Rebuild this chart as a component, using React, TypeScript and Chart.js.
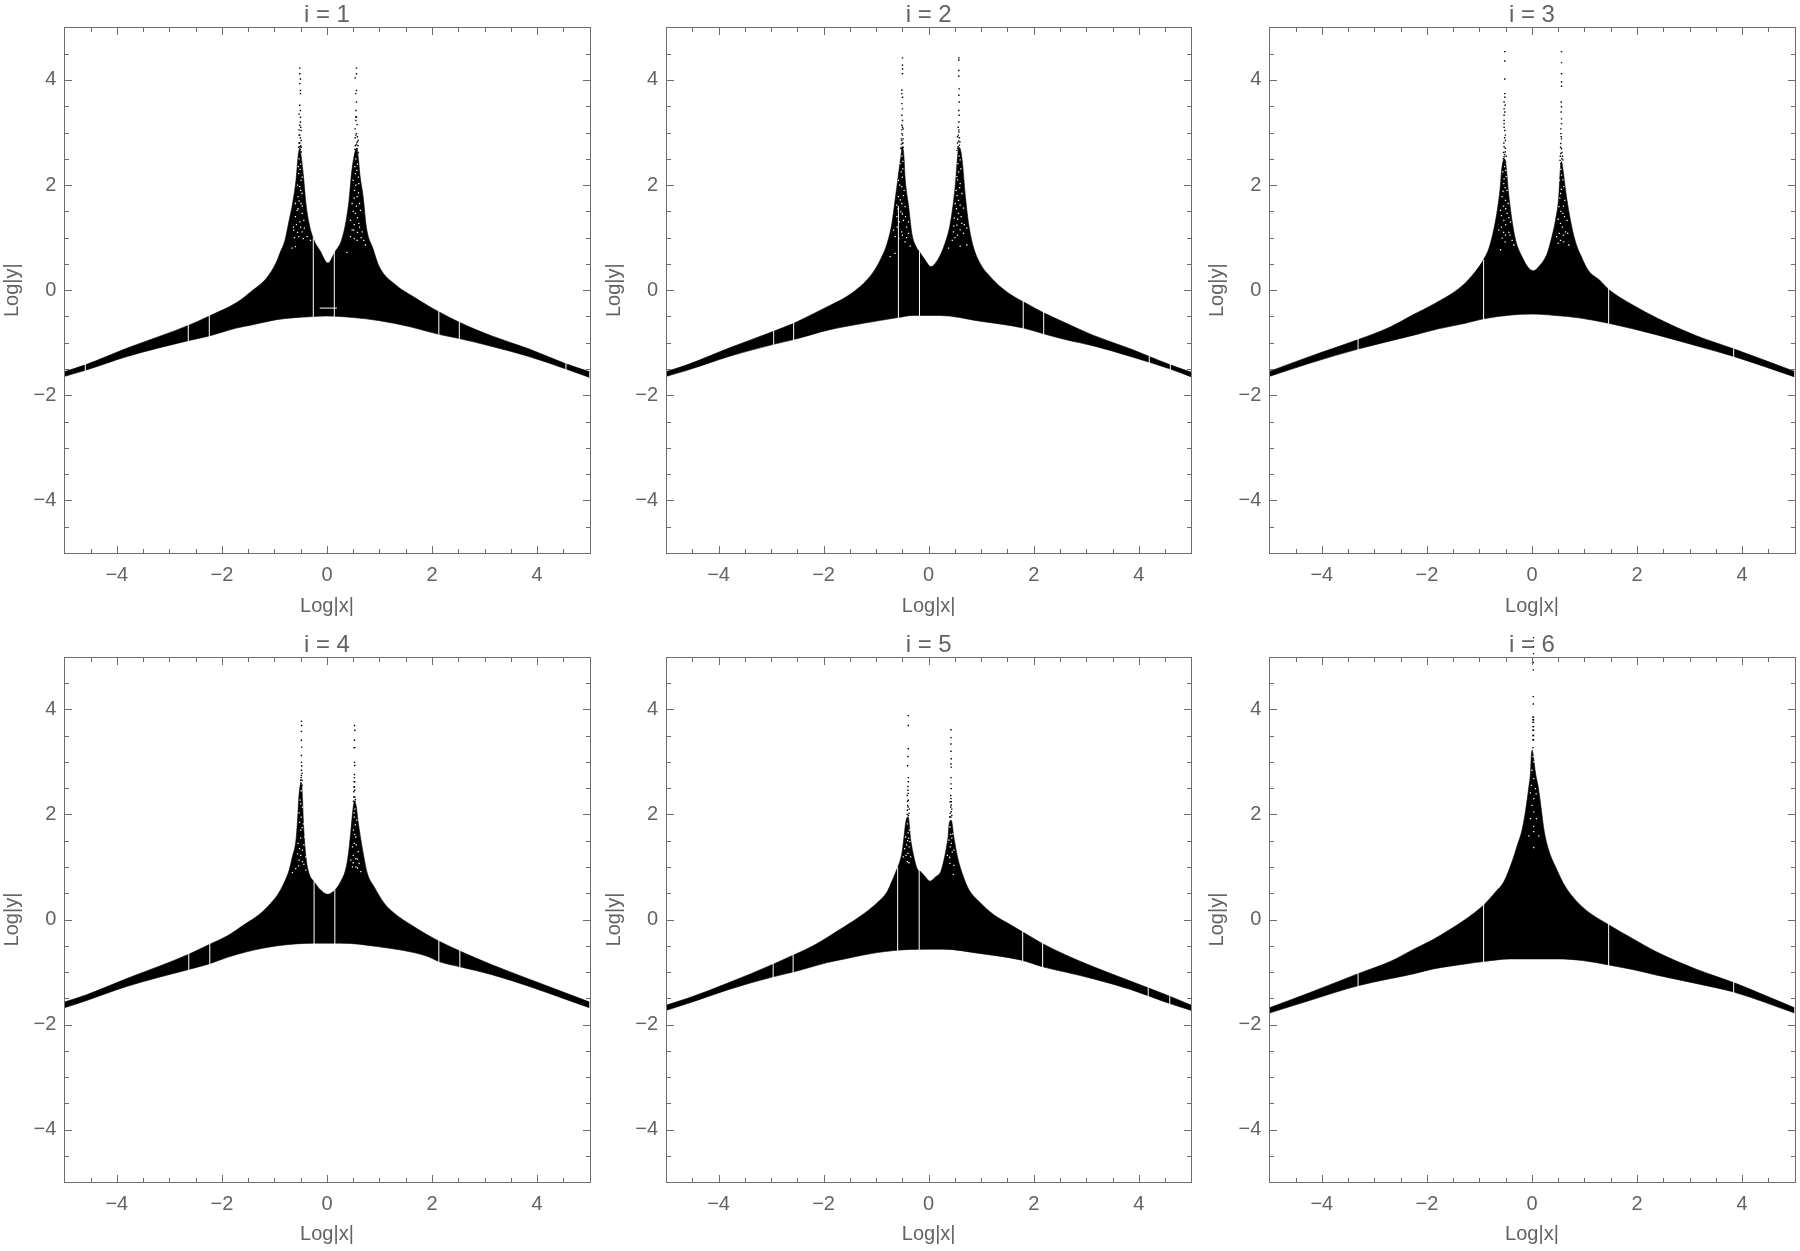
import React, { useEffect, useRef } from "react";
import { Chart, registerables } from "chart.js";

Chart.register(...registerables);

type P = [number, number];

const majorTicks = [-4, -2, 0, 2, 4];
const minorTicks = [-4.5, -3.5, -3, -2.5, -1.5, -1, -0.5, 0.5, 1, 1.5, 2.5, 3, 3.5, 4.5];
const titles = ["i = 1", "i = 2", "i = 3", "i = 4", "i = 5", "i = 6"];

// ---------- i = 1 ----------
const p1Upper: P[] = [[-5,-1.55],[-4.6,-1.42],[-3.8,-1.1],[-2.64,-0.67],[-2.24,-0.49],[-1.72,-0.235],[-1.43,-0.015],[-1.15,0.23],[-0.96,0.54],[-0.9,0.695],[-0.8,0.95],[-0.72,1.33],[-0.655,1.65],[-0.59,2.09],[-0.55,2.54],[-0.517,2.7],[-0.49,2.54],[-0.45,2.2],[-0.4,1.65],[-0.34,1.27],[-0.25,0.96],[-0.136,0.76],[0.02,0.516],[0.15,0.725],[0.277,0.95],[0.36,1.3],[0.42,1.71],[0.467,2.22],[0.52,2.57],[0.562,2.7],[0.6,2.5],[0.625,2.22],[0.69,1.77],[0.75,1.2],[0.877,0.79],[1,0.44],[1.31,0.1],[1.64,-0.12],[1.95,-0.31],[2.13,-0.41],[2.52,-0.61],[3.14,-0.87],[3.84,-1.115],[4.55,-1.4],[5,-1.55]];
const p1Lower: P[] = [[-5,-1.64],[-4.6,-1.525],[-3.8,-1.26],[-2.64,-0.96],[-2.24,-0.87],[-1.72,-0.72],[-1.43,-0.66],[-1.15,-0.6],[-0.96,-0.56],[-0.26,-0.5],[0,-0.49],[0.5,-0.52],[1,-0.58],[1.6,-0.7],[2.13,-0.84],[2.52,-0.92],[3.14,-1.07],[3.84,-1.26],[4.55,-1.5],[5,-1.66]];
const p1Gaps: number[][] = [[-4.6,-1.56,-1.4],[-2.64,-1,-0.65],[-2.24,-0.9,-0.47],[-0.26,-0.53,1],[0.14,-0.53,0.76],[2.13,-0.87,-0.39],[2.52,-0.95,-0.59],[4.55,-1.53,-1.38]];
const p1Slivers: P[] = [[-0.137,-0.34],[0.19,-0.34]];
const p1Dots: P[] = [[-0.517,4.225],[-0.517,4.12],[-0.505,4.02],[-0.517,3.93],[-0.505,3.8],[-0.505,3.74],[-0.517,3.52],[-0.505,3.42],[-0.505,3.29],[-0.517,3.14],[-0.492,3.04],[-0.517,2.95],[-0.492,2.85],[-0.517,2.73],[-0.492,2.63],[-0.505,2.54],[-0.53,2.6],[-0.53,2.8],[-0.53,3.35],[-0.505,3.2],[-0.53,3.05],[-0.505,2.9],[-0.53,2.95],[-0.5,2.75],[-0.54,2.72],[-0.49,2.72],[-0.5,3.1],[-0.517,2.8],[-0.505,2.68],[0.562,4.225],[0.562,4.12],[0.537,4.04],[0.562,3.8],[0.55,3.74],[0.562,3.58],[0.55,3.42],[0.562,3.29],[0.55,3.23],[0.537,3.07],[0.562,2.98],[0.594,2.85],[0.55,2.76],[0.575,2.69],[0.55,2.57],[0.594,2.62],[0.537,2.9],[0.55,3.3],[0.575,3.15],[0.55,2.95],[0.575,2.82],[0.59,2.75],[0.54,2.75],[0.565,2.78],[0.58,2.92],[0.53,2.68]];
const p1Specks: P[] = [[-0.537,2.22],[-0.492,2.09],[-0.517,1.97],[-0.473,1.84],[-0.549,1.78],[-0.492,1.65],[-0.568,1.52],[-0.473,1.46],[-0.6,1.4],[-0.517,1.3],[-0.441,1.33],[-0.632,1.145],[-0.473,1.11],[-0.537,1.02],[-0.378,1.02],[-0.663,0.8],[-0.6,0.83],[-0.314,0.95],[-0.53,2.5],[-0.5,2.4],[-0.545,2.35],[-0.51,2.3],[-0.47,2.15],[-0.56,2],[-0.5,1.9],[-0.53,1.7],[-0.6,1.65],[-0.47,1.6],[-0.55,1.55],[-0.64,1.2],[-0.58,1.25],[-0.5,1.2],[-0.43,1.18],[-0.56,1.1],[-0.62,1],[-0.45,0.98],[0.543,2.22],[0.498,2.09],[0.606,2.03],[0.524,1.9],[0.575,1.78],[0.479,1.65],[0.638,1.52],[0.543,1.46],[0.448,1.33],[0.606,1.27],[0.511,1.145],[0.67,1.11],[0.448,1.02],[0.7,0.95],[0.575,0.95],[0.733,0.86],[0.38,0.72],[0.55,2.5],[0.58,2.4],[0.53,2.35],[0.57,2.28],[0.6,2.15],[0.55,2],[0.6,1.85],[0.52,1.75],[0.56,1.6],[0.62,1.65],[0.5,1.5],[0.58,1.38],[0.52,1.25],[0.62,1.2],[0.48,1.15],[0.58,1.1],[0.65,1],[0.52,0.98]];

// ---------- i = 2 ----------
const p2Upper: P[] = [[-5,-1.55],[-4.6,-1.42],[-3.8,-1.1],[-2.95,-0.78],[-2.57,-0.63],[-2.24,-0.47],[-1.88,-0.29],[-1.56,-0.12],[-1.24,0.13],[-1.05,0.35],[-0.92,0.58],[-0.8,0.86],[-0.7,1.27],[-0.64,1.71],[-0.58,2.16],[-0.53,2.54],[-0.498,2.72],[-0.47,2.54],[-0.45,2.16],[-0.38,1.59],[-0.32,1.08],[-0.24,0.83],[-0.175,0.73],[-0.07,0.58],[0.04,0.45],[0.19,0.61],[0.31,0.89],[0.4,1.21],[0.46,1.59],[0.51,2.03],[0.55,2.54],[0.575,2.72],[0.63,2.54],[0.7,1.78],[0.76,1.27],[0.85,0.83],[0.98,0.51],[1.17,0.26],[1.36,0.07],[1.62,-0.12],[1.8,-0.22],[1.93,-0.29],[2.19,-0.43],[2.6,-0.62],[3.14,-0.86],[3.84,-1.115],[4.2,-1.26],[4.6,-1.42],[5,-1.56]];
const p2Lower: P[] = [[-5,-1.64],[-4.6,-1.525],[-3.8,-1.26],[-2.95,-1.03],[-2.57,-0.94],[-1.88,-0.75],[-1.24,-0.63],[-0.58,-0.52],[-0.3,-0.48],[0.2,-0.48],[0.98,-0.59],[1.8,-0.72],[2.19,-0.83],[2.6,-0.94],[3.14,-1.06],[3.84,-1.26],[4.6,-1.5],[5,-1.65]];
const p2Gaps: number[][] = [[-2.95,-1.06,-0.76],[-2.57,-0.97,-0.61],[-0.576,-0.55,1.6],[-0.175,-0.51,0.74],[1.8,-0.75,-0.2],[2.19,-0.86,-0.41],[4.2,-1.42,-1.24],[4.6,-1.53,-1.4]];
const p2Slivers: P[] = [];
const p2Dots: P[] = [[-0.498,4.42],[-0.498,4.28],[-0.498,4.21],[-0.498,4.12],[-0.51,3.81],[-0.51,3.74],[-0.498,3.67],[-0.51,3.55],[-0.498,3.45],[-0.51,3.33],[-0.498,3.23],[-0.51,3.14],[-0.485,3.07],[-0.51,2.98],[-0.52,2.88],[-0.498,2.79],[-0.52,2.69],[-0.485,2.88],[-0.485,2.72],[-0.51,3.05],[-0.498,2.95],[-0.52,2.78],[-0.505,2.72],[-0.49,2.8],[-0.51,2.85],[-0.498,3.1],[-0.53,2.7],[0.575,4.42],[0.575,4.38],[0.575,4.18],[0.575,4.07],[0.581,3.83],[0.575,3.71],[0.581,3.58],[0.575,3.42],[0.581,3.33],[0.575,3.2],[0.562,3.1],[0.575,3.01],[0.55,2.92],[0.594,2.82],[0.562,2.73],[0.594,2.68],[0.55,2.8],[0.565,2.95],[0.585,2.9],[0.57,2.84],[0.585,2.76],[0.555,2.7],[0.575,3.05],[0.54,2.66]];
const p2Specks: P[] = [[-0.543,2.41],[-0.492,2.31],[-0.575,2.09],[-0.511,1.97],[-0.467,1.9],[-0.575,1.78],[-0.511,1.65],[-0.606,1.62],[-0.448,1.59],[-0.53,1.49],[-0.606,1.4],[-0.479,1.33],[-0.384,1.3],[-0.67,1.145],[-0.511,1.11],[-0.384,1.08],[-0.638,1.02],[-0.448,0.92],[-0.352,0.84],[-0.733,0.64],[-0.638,0.7],[-0.51,2.55],[-0.49,2.45],[-0.52,2.25],[-0.5,2.15],[-0.55,2],[-0.48,1.8],[-0.54,1.72],[-0.58,1.55],[-0.5,1.45],[-0.44,1.4],[-0.56,1.3],[-0.42,1.2],[-0.6,1.2],[-0.5,1.05],[-0.57,0.98],[-0.42,1],[0.556,2.41],[0.613,2.31],[0.537,2.16],[0.6,2.03],[0.524,1.9],[0.632,1.84],[0.568,1.71],[0.505,1.65],[0.663,1.56],[0.568,1.46],[0.486,1.37],[0.632,1.27],[0.537,1.24],[0.727,1.18],[0.473,1.11],[0.663,1.08],[0.378,0.8],[0.6,0.84],[0.727,0.86],[0.58,2.55],[0.6,2.48],[0.57,2.25],[0.55,2.1],[0.59,1.95],[0.54,1.8],[0.6,1.62],[0.53,1.55],[0.62,1.4],[0.55,1.35],[0.48,1.22],[0.6,1.15],[0.55,1.05],[0.68,1.25],[0.5,1],[0.45,0.95]];

// ---------- i = 3 ----------
const p3Upper: P[] = [[-5,-1.545],[-4.2,-1.25],[-3.31,-0.94],[-2.7,-0.7],[-2.23,-0.45],[-1.9,-0.28],[-1.33,0.082],[-1.08,0.353],[-0.93,0.57],[-0.82,0.795],[-0.73,1.14],[-0.67,1.46],[-0.61,1.9],[-0.57,2.35],[-0.517,2.5],[-0.49,2.35],[-0.45,1.9],[-0.39,1.4],[-0.31,0.95],[-0.19,0.64],[-0.06,0.42],[0.036,0.372],[0.13,0.45],[0.29,0.7],[0.38,1.02],[0.45,1.34],[0.51,1.78],[0.54,2.3],[0.563,2.45],[0.59,2.3],[0.64,1.9],[0.72,1.4],[0.82,0.95],[0.94,0.64],[1.07,0.38],[1.29,0.19],[1.48,0],[1.92,-0.28],[2.38,-0.53],[3.14,-0.87],[3.84,-1.115],[5,-1.545]];
const p3Lower: P[] = [[-5,-1.64],[-4.2,-1.38],[-3.31,-1.12],[-2.23,-0.85],[-1.78,-0.735],[-1.27,-0.63],[-0.92,-0.545],[-0.38,-0.47],[0,-0.455],[0.44,-0.48],[0.92,-0.53],[1.46,-0.63],[2.38,-0.85],[3.14,-1.06],[3.84,-1.26],[5,-1.65]];
const p3Gaps: number[][] = [[-3.31,-1.15,-0.92],[-0.92,-0.57,0.58],[1.46,-0.66,0.05],[3.84,-1.29,-1.09]];
const p3Slivers: P[] = [];
const p3Dots: P[] = [[-0.517,4.54],[-0.517,4.36],[-0.517,4.02],[-0.517,3.74],[-0.517,3.67],[-0.53,3.58],[-0.51,3.52],[-0.53,3.45],[-0.517,3.39],[-0.53,3.33],[-0.53,3.23],[-0.53,3.17],[-0.517,3.04],[-0.505,2.95],[-0.505,2.85],[-0.53,2.73],[-0.51,2.63],[-0.53,2.54],[-0.505,2.44],[-0.54,2.62],[-0.53,3.1],[-0.52,2.9],[-0.535,2.8],[-0.505,2.7],[-0.52,2.58],[-0.49,2.55],[-0.545,2.5],[0.563,4.54],[0.563,4.33],[0.563,4.12],[0.563,3.96],[0.563,3.88],[0.557,3.58],[0.563,3.49],[0.557,3.39],[0.563,3.26],[0.563,3.17],[0.55,3.07],[0.55,2.98],[0.563,2.88],[0.55,2.79],[0.563,2.69],[0.55,2.6],[0.57,2.5],[0.55,2.41],[0.557,2.92],[0.545,2.72],[0.57,2.62],[0.54,2.55],[0.58,2.55],[0.59,2.48],[0.535,2.47]];
const p3Specks: P[] = [[-0.555,2.25],[-0.491,2.16],[-0.536,2.03],[-0.472,1.9],[-0.568,1.78],[-0.504,1.71],[-0.453,1.65],[-0.599,1.52],[-0.472,1.46],[-0.536,1.33],[-0.409,1.3],[-0.631,1.145],[-0.504,1.05],[-0.568,0.99],[-0.377,0.95],[-0.599,0.77],[-0.345,0.86],[-0.52,2.35],[-0.5,2.28],[-0.53,2.12],[-0.51,1.95],[-0.55,1.88],[-0.54,1.6],[-0.5,1.55],[-0.58,1.42],[-0.44,1.38],[-0.5,1.25],[-0.58,1.2],[-0.44,1.1],[-0.54,1.1],[-0.42,1.05],[-0.51,0.92],[0.563,2.19],[0.525,2.09],[0.607,1.97],[0.544,1.84],[0.626,1.71],[0.512,1.59],[0.588,1.46],[0.67,1.33],[0.544,1.27],[0.639,1.11],[0.499,0.89],[0.607,0.92],[0.702,0.86],[0.544,0.95],[0.55,2.3],[0.59,2.1],[0.56,1.92],[0.53,1.75],[0.6,1.6],[0.55,1.5],[0.62,1.4],[0.5,1.35],[0.58,1.2],[0.52,1.08],[0.6,1.05],[0.68,1.08],[0.47,1.02]];

// ---------- i = 4 ----------
const p4Upper: P[] = [[-5,-1.57],[-4.6,-1.44],[-3.8,-1.12],[-2.63,-0.66],[-2.23,-0.47],[-1.895,-0.31],[-1.58,-0.1],[-1.26,0.12],[-1.07,0.31],[-0.94,0.47],[-0.82,0.69],[-0.72,0.94],[-0.66,1.19],[-0.59,1.51],[-0.56,1.89],[-0.53,2.39],[-0.486,2.6],[-0.465,2.3],[-0.45,1.89],[-0.4,1.19],[-0.34,0.875],[-0.245,0.72],[-0.12,0.56],[0.01,0.48],[0.15,0.56],[0.26,0.72],[0.36,0.97],[0.41,1.26],[0.45,1.63],[0.5,2.14],[0.524,2.25],[0.56,2.14],[0.59,1.89],[0.68,1.32],[0.77,0.875],[0.9,0.62],[1.09,0.31],[1.28,0.12],[1.6,-0.1],[1.91,-0.29],[2.13,-0.41],[2.53,-0.6],[3.14,-0.86],[3.84,-1.13],[4.55,-1.4],[5,-1.57]];
const p4Lower: P[] = [[-5,-1.68],[-4.6,-1.55],[-3.8,-1.27],[-2.63,-0.95],[-2.23,-0.84],[-1.895,-0.72],[-1.51,-0.61],[-0.94,-0.5],[-0.245,-0.45],[0.26,-0.45],[0.96,-0.515],[1.91,-0.7],[2.13,-0.8],[2.53,-0.9],[3.14,-1.05],[3.84,-1.27],[4.55,-1.52],[5,-1.68]];
const p4Gaps: number[][] = [[-2.63,-0.98,-0.64],[-2.23,-0.87,-0.45],[-0.245,-0.48,0.73],[0.15,-0.48,0.57],[2.13,-0.83,-0.39],[2.53,-0.93,-0.58]];
const p4Slivers: P[] = [];
const p4Dots: P[] = [[-0.486,3.77],[-0.48,3.69],[-0.486,3.58],[-0.486,3.41],[-0.48,3.28],[-0.486,3.12],[-0.486,2.99],[-0.486,2.84],[-0.486,2.74],[-0.5,2.65],[-0.475,2.65],[-0.5,2.55],[-0.475,2.55],[-0.49,2.46],[-0.5,2.36],[-0.48,2.92],[-0.49,2.7],[-0.475,2.78],[-0.5,2.6],[0.524,3.69],[0.53,3.6],[0.524,3.41],[0.53,3.27],[0.517,3.27],[0.524,2.99],[0.53,2.93],[0.524,2.76],[0.53,2.62],[0.517,2.62],[0.524,2.52],[0.511,2.43],[0.53,2.33],[0.511,2.33],[0.53,2.24],[0.524,2.7],[0.53,2.46],[0.515,2.52],[0.54,2.28],[0.505,2.25]];
const p4Specks: P[] = [[-0.511,2.27],[-0.467,2.14],[-0.53,2.03],[-0.448,1.82],[-0.498,1.7],[-0.422,1.57],[-0.549,1.45],[-0.467,1.32],[-0.403,1.19],[-0.53,1.13],[-0.467,1.1],[-0.594,0.97],[-0.403,0.94],[-0.657,0.89],[-0.49,2.45],[-0.5,2.2],[-0.49,1.95],[-0.52,1.85],[-0.47,1.75],[-0.5,1.55],[-0.52,1.35],[-0.44,1.42],[-0.56,1.25],[-0.5,1.22],[-0.44,1.05],[-0.54,1.02],[0.517,2.03],[0.568,1.89],[0.505,1.7],[0.549,1.57],[0.486,1.38],[0.594,1.29],[0.454,1.13],[0.549,1.16],[0.613,1.07],[0.486,1],[0.644,0.91],[0.53,2.1],[0.52,1.95],[0.54,1.8],[0.53,1.62],[0.52,1.45],[0.56,1.42],[0.5,1.22],[0.58,1.15],[0.5,1.08],[0.55,1],[0.58,0.98]];

// ---------- i = 5 ----------
const p5Upper: P[] = [[-5,-1.63],[-4.59,-1.5],[-3.8,-1.2],[-2.96,-0.85],[-2.58,-0.68],[-2.2,-0.5],[-1.93,-0.34],[-1.61,-0.14],[-1.29,0.07],[-0.98,0.32],[-0.79,0.53],[-0.69,0.75],[-0.6,0.97],[-0.55,1.1],[-0.5,1.32],[-0.47,1.57],[-0.43,1.89],[-0.39,1.95],[-0.34,1.51],[-0.28,1.19],[-0.22,0.97],[-0.15,0.91],[-0.06,0.81],[0.025,0.73],[0.13,0.81],[0.23,0.91],[0.29,1.13],[0.34,1.38],[0.37,1.57],[0.39,1.82],[0.43,1.89],[0.48,1.57],[0.55,1.19],[0.64,0.875],[0.77,0.56],[0.93,0.37],[1.24,0.09],[1.56,-0.1],[1.88,-0.29],[2.17,-0.46],[2.6,-0.67],[3.14,-0.9],[3.84,-1.17],[4.18,-1.3],[4.59,-1.46],[5,-1.63]];
const p5Lower: P[] = [[-5,-1.73],[-4.59,-1.6],[-3.8,-1.33],[-2.96,-1.09],[-2.58,-1],[-1.93,-0.82],[-1.55,-0.74],[-0.98,-0.63],[-0.34,-0.57],[0.29,-0.565],[0.93,-0.64],[1.75,-0.77],[2.17,-0.9],[2.6,-1],[3.14,-1.13],[3.84,-1.33],[4.59,-1.6],[5,-1.73]];
const p5Gaps: number[][] = [[-2.96,-1.12,-0.83],[-2.58,-1.03,-0.66],[-0.59,-0.6,1],[-0.18,-0.6,0.95],[1.79,-0.8,-0.2],[2.17,-0.93,-0.44],[4.18,-1.52,-1.28],[4.59,-1.63,-1.44]];
const p5Slivers: P[] = [];
const p5Dots: P[] = [[-0.387,3.88],[-0.387,3.69],[-0.387,3.25],[-0.395,3.1],[-0.4,2.925],[-0.387,2.7],[-0.387,2.62],[-0.395,2.53],[-0.395,2.46],[-0.405,2.36],[-0.39,2.27],[-0.4,2.17],[-0.405,2.08],[-0.385,1.98],[-0.37,2.1],[-0.4,2.25],[-0.39,2.4],[-0.39,2.14],[-0.375,2.02],[-0.41,2],[0.425,3.61],[0.425,3.46],[0.425,3.34],[0.425,3.2],[0.43,3.06],[0.425,2.96],[0.43,2.9],[0.425,2.7],[0.425,2.58],[0.43,2.49],[0.42,2.36],[0.43,2.24],[0.42,2.14],[0.43,2.05],[0.42,1.95],[0.41,2.24],[0.44,2.1],[0.44,1.98],[0.425,2.3],[0.43,2.18],[0.41,2.02],[0.4,1.95]];
const p5Specks: P[] = [[-0.406,1.82],[-0.368,1.7],[-0.438,1.57],[-0.356,1.48],[-0.457,1.35],[-0.394,1.26],[-0.343,1.19],[-0.483,1.19],[-0.406,1.1],[-0.375,1.08],[-0.39,1.65],[-0.4,1.5],[-0.42,1.42],[-0.37,1.38],[-0.43,1.22],[-0.38,1.55],[0.406,1.76],[0.457,1.63],[0.387,1.51],[0.432,1.45],[0.483,1.32],[0.356,1.22],[0.406,1.07],[0.483,1.03],[0.47,0.86],[0.42,1.62],[0.44,1.55],[0.41,1.38],[0.45,1.28],[0.4,1.18]];

// ---------- i = 6 ----------
const p6Upper: P[] = [[-5,-1.68],[-4.2,-1.38],[-3.31,-1.03],[-2.7,-0.8],[-2.24,-0.56],[-1.9,-0.39],[-1.58,-0.2],[-1.27,0],[-0.92,0.275],[-0.69,0.53],[-0.535,0.72],[-0.38,1.1],[-0.28,1.41],[-0.19,1.7],[-0.12,2.08],[-0.06,2.52],[-0.03,2.77],[-0.01,3.15],[0.005,3.22],[0.02,3.15],[0.07,2.77],[0.12,2.52],[0.18,2.08],[0.23,1.7],[0.32,1.32],[0.45,1],[0.64,0.62],[0.96,0.24],[1.46,-0.1],[1.91,-0.36],[2.38,-0.62],[3.14,-0.95],[3.84,-1.2],[5,-1.68]];
const p6Lower: P[] = [[-5,-1.78],[-4.2,-1.53],[-3.31,-1.26],[-2.24,-1.03],[-1.9,-0.945],[-1.27,-0.845],[-0.92,-0.8],[-0.41,-0.75],[0.48,-0.75],[0.96,-0.78],[1.46,-0.865],[1.91,-0.95],[2.38,-1.06],[3.14,-1.22],[3.84,-1.38],[5,-1.78]];
const p6Gaps: number[][] = [[-3.31,-1.29,-1.01],[-0.92,-0.83,0.3],[1.46,-0.89,-0.08],[3.84,-1.41,-1.18]];
const p6Slivers: P[] = [];
const p6Dots: P[] = [[0.02,3.27],[0.02,3.42],[0.03,3.42],[0.02,3.5],[0.03,3.5],[0.02,3.6],[0.03,3.6],[0.02,3.67],[0.03,3.67],[0.02,3.75],[0.03,3.75],[0.02,3.8],[0.03,3.8],[0.02,3.85],[0.03,3.85],[0.025,4.1],[0.025,4.24],[0.025,4.75],[0.025,4.89]];
const p6Above: P[] = [[0.025,5.08],[0.025,5.21],[0.025,5.37]];
const p6Specks: P[] = [[0.02,3.1],[0.035,3],[0,2.84],[0.035,2.68],[-0.01,2.55],[0.067,2.49],[-0.03,2.41],[0.08,2.39],[0.035,2.3],[0,2.17],[0.035,2.05],[-0.03,1.92],[0.086,1.92],[0.035,1.77],[-0.06,1.59],[0.13,1.59],[0.035,1.67],[0.035,1.37]];

const uppers = [p1Upper, p2Upper, p3Upper, p4Upper, p5Upper, p6Upper];
const lowers = [p1Lower, p2Lower, p3Lower, p4Lower, p5Lower, p6Lower];
const gapLists = [p1Gaps, p2Gaps, p3Gaps, p4Gaps, p5Gaps, p6Gaps];
const sliverLists = [p1Slivers, p2Slivers, p3Slivers, p4Slivers, p5Slivers, p6Slivers];
const dotLists = [p1Dots, p2Dots, p3Dots, p4Dots, p5Dots, p6Dots];
const speckLists = [p1Specks, p2Specks, p3Specks, p4Specks, p5Specks, p6Specks];
const aboveLists: P[][] = [[], [], [], [], [], p6Above];

const FONT = '"Liberation Sans", Arial, sans-serif';
const TEXT = "#636363";
const FRAME = "#6e6e6e";

const toXY = (pts: P[]) => pts.map(([x, y]) => ({ x, y }));

const framePlugin = {
  id: "frameTicks",
  afterDatasetsDraw(chart: any, _args: any, opts: any) {
    const { ctx, chartArea: a, scales } = chart;
    const l = Math.round(a.left) + 0.5;
    const r = Math.round(a.right) + 0.5;
    const t = Math.round(a.top) + 0.5;
    const b = Math.round(a.bottom) + 0.5;
    ctx.save();
    ctx.strokeStyle = FRAME;
    ctx.lineWidth = 1;
    ctx.strokeRect(l, t, r - l, b - t);
    const draw = (vals: number[], len: number) => {
      ctx.beginPath();
      for (const v of vals) {
        const px = Math.round(scales.x.getPixelForValue(v)) + 0.5;
        ctx.moveTo(px, b);
        ctx.lineTo(px, b - len);
        ctx.moveTo(px, t);
        ctx.lineTo(px, t + len);
        const py = Math.round(scales.y.getPixelForValue(v)) + 0.5;
        ctx.moveTo(l, py);
        ctx.lineTo(l + len, py);
        ctx.moveTo(r, py);
        ctx.lineTo(r - len, py);
      }
      ctx.stroke();
    };
    draw(majorTicks, 7.5);
    draw(minorTicks, 4.5);
    ctx.fillStyle = "#000";
    for (const [x, y] of (opts.above || []) as P[]) {
      ctx.fillRect(Math.round(scales.x.getPixelForValue(x)), Math.round(scales.y.getPixelForValue(y)), 1.2, 1.2);
    }
    ctx.restore();
  },
};

const slots = [
  { left: 0, top: 0, width: 600, height: 618, yw: 64.3, xh: 65, padTop: 0.9 },
  { left: 602, top: 0, width: 600, height: 618, yw: 64, xh: 65, padTop: 0.9 },
  { left: 1205, top: 0, width: 595, height: 618, yw: 64.3, xh: 65, padTop: 0.9 },
  { left: 0, top: 629, width: 600, height: 617, yw: 64.3, xh: 63.7, padTop: 1.2 },
  { left: 602, top: 629, width: 600, height: 617, yw: 64, xh: 63.7, padTop: 1.2 },
  { left: 1205, top: 629, width: 595, height: 617, yw: 64.3, xh: 63.7, padTop: 1.2 },
];

function Panel({ index }: { index: number }) {
  const ref = useRef<HTMLCanvasElement | null>(null);
  const s = slots[index];
  useEffect(() => {
    if (!ref.current) return;
    const gapSets = gapLists[index].map(([x, lo, hi]) => ({
      data: [{ x, y: lo }, { x, y: hi }],
      borderColor: "#fff",
      borderWidth: 1,
      pointRadius: 0,
      fill: false,
      order: 0,
    }));
    const chart = new Chart(ref.current, {
      type: "line",
      data: {
        datasets: [
          {
            label: "upper",
            data: toXY(uppers[index]),
            borderColor: "#000",
            backgroundColor: "#000",
            borderWidth: 0.6,
            pointRadius: 0,
            cubicInterpolationMode: "monotone",
            fill: "+1",
            order: 3,
          },
          {
            label: "lower",
            data: toXY(lowers[index]),
            borderColor: "#000",
            borderWidth: 0.6,
            pointRadius: 0,
            cubicInterpolationMode: "monotone",
            fill: false,
            order: 3,
          },
          {
            label: "dots",
            data: toXY(dotLists[index]),
            showLine: false,
            pointStyle: "rect",
            pointRadius: 1,
            pointBorderWidth: 0,
            pointBackgroundColor: "#000",
            order: 2,
          },
          {
            label: "specks",
            data: toXY(speckLists[index]),
            showLine: false,
            pointStyle: "rect",
            pointRadius: 0.9,
            pointBorderWidth: 0,
            pointBackgroundColor: "#fff",
            order: 1,
          },
          {
            label: "sliver",
            data: toXY(sliverLists[index]),
            borderColor: "#fff",
            borderWidth: 1,
            pointRadius: 0,
            fill: false,
            order: 0,
          },
          ...gapSets,
        ] as any,
      },
      plugins: [framePlugin],
      options: {
        animation: false,
        responsive: false,
        devicePixelRatio: 1,
        events: [],
        layout: { padding: { top: s.padTop, right: s.width - s.yw - 525.3, bottom: 0, left: 0 } },
        plugins: {
          legend: { display: false },
          tooltip: { enabled: false },
          title: {
            display: true,
            text: titles[index],
            color: TEXT,
            fullSize: false,
            font: { family: FONT, size: 24, weight: "normal", lineHeight: 0.98 },
            padding: { top: 3, bottom: 0 },
          },
          frameTicks: { above: aboveLists[index] },
        } as any,
        scales: {
          x: {
            type: "linear",
            min: -5,
            max: 5,
            afterBuildTicks: (sc: any) => {
              sc.ticks = majorTicks.map((value) => ({ value }));
            },
            afterFit: (sc: any) => {
              sc.height = s.xh;
            },
            grid: { display: false, drawTicks: false },
            border: { display: false },
            ticks: {
              color: TEXT,
              padding: 10,
              maxRotation: 0,
              autoSkip: false,
              font: { family: FONT, size: 20 },
              callback: (v: any) => (v < 0 ? "\u2212" + Math.abs(v) : String(v)),
            },
            title: {
              display: true,
              text: "Log|x|",
              color: TEXT,
              padding: 0,
              font: { family: FONT, size: 20 },
            },
          },
          y: {
            type: "linear",
            min: -5,
            max: 5,
            afterBuildTicks: (sc: any) => {
              sc.ticks = majorTicks.map((value) => ({ value }));
            },
            afterFit: (sc: any) => {
              sc.width = s.yw;
            },
            grid: { display: false, drawTicks: false },
            border: { display: false },
            ticks: {
              color: TEXT,
              padding: 8,
              autoSkip: false,
              font: { family: FONT, size: 20 },
              callback: (v: any) => (v < 0 ? "\u2212" + Math.abs(v) : String(v)),
            },
            title: {
              display: true,
              text: "Log|y|",
              color: TEXT,
              padding: 0,
              font: { family: FONT, size: 20 },
            },
          },
        },
      } as any,
    });
    return () => chart.destroy();
  }, [index]);
  return (
    <canvas
      ref={ref}
      width={s.width}
      height={s.height}
      style={{ position: "absolute", left: s.left, top: s.top, width: s.width, height: s.height, display: "block" }}
    />
  );
}

export default function App() {
  return (
    <div style={{ position: "absolute", left: 0, top: 0, width: 1800, height: 1251, background: "#fff", overflow: "hidden" }}>
      {titles.map((_, i) => (
        <Panel key={i} index={i} />
      ))}
    </div>
  );
}
